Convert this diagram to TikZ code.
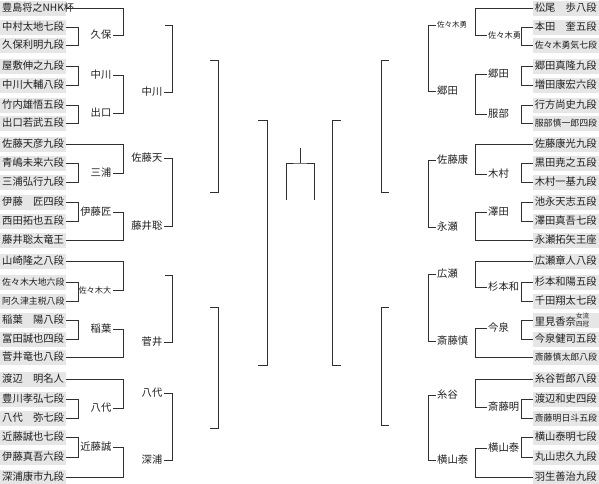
\documentclass[tikz,border=0pt]{standalone}
\usepackage{fontspec}
\newfontfamily\jp{Noto Sans CJK JP}
\definecolor{boxgray}{HTML}{E6E6E6}
\definecolor{linec}{HTML}{303030}
\definecolor{textc}{HTML}{202020}
\newcommand{\fn}{\jp\fontsize{10.3}{12}\selectfont}
\newcommand{\fs}{\jp\fontsize{8.9}{10}\selectfont}
\begin{document}
\begin{tikzpicture}[x=1pt,y=-1pt,
  pbox/.style={fill=boxgray, minimum width=66pt, minimum height=15pt, inner sep=0pt,
    text width=62pt, align=left, font=\fn, text=textc},
  sbox/.style={pbox, font=\fs},
  lab/.style={font=\fn, inner xsep=1.5pt, inner ysep=0pt, text=textc},
  slab/.style={lab, font=\jp\fontsize{8.2}{9}\selectfont},
  br/.style={draw=linec, line width=0.9pt}]
\useasboundingbox (0,0) rectangle (599,483);
% column coordinates
\coordinate (c1) at (78,0);
\coordinate (c2) at (123,0);
\coordinate (c3) at (172,0);
\coordinate (c4) at (218,0);
\coordinate (c5) at (267,0);
\coordinate (d1) at (521,0);
\coordinate (d2) at (475,0);
\coordinate (d3) at (428,0);
\coordinate (d4) at (381,0);
\coordinate (d5) at (332,0);
% ---------------- left players
\node[pbox,anchor=west,font=\jp\fontsize{10.1}{11}\selectfont] (L0) at (0,8) {豊島将之NHK杯};
\node[pbox,anchor=west] (L1) at (0,27) {中村太地七段};
\node[pbox,anchor=west] (L2) at (0,45) {久保利明九段};
\node[pbox,anchor=west] (L3) at (0,66) {屋敷伸之九段};
\node[pbox,anchor=west] (L4) at (0,85) {中川大輔八段};
\node[pbox,anchor=west] (L5) at (0,105) {竹内雄悟五段};
\node[pbox,anchor=west] (L6) at (0,123) {出口若武五段};
\node[pbox,anchor=west] (L7) at (0,144) {佐藤天彦九段};
\node[pbox,anchor=west] (L8) at (0,163) {青嶋未来六段};
\node[pbox,anchor=west] (L9) at (0,182) {三浦弘行九段};
\node[pbox,anchor=west] (L10) at (0,202) {伊藤　匠四段};
\node[pbox,anchor=west] (L11) at (0,221) {西田拓也五段};
\node[pbox,anchor=west] (L12) at (0,240) {藤井聡太竜王};
\node[pbox,anchor=west] (L13) at (0,261) {山崎隆之八段};
\node[sbox,anchor=west] (L14) at (0,282) {佐々木大地六段};
\node[sbox,anchor=west] (L15) at (0,301) {阿久津主税八段};
\node[pbox,anchor=west] (L16) at (0,320) {稲葉　陽八段};
\node[pbox,anchor=west] (L17) at (0,339) {冨田誠也四段};
\node[pbox,anchor=west] (L18) at (0,357) {菅井竜也八段};
\node[pbox,anchor=west] (L19) at (0,379) {渡辺　明名人};
\node[pbox,anchor=west] (L20) at (0,399) {豊川孝弘七段};
\node[pbox,anchor=west] (L21) at (0,418) {八代　弥七段};
\node[pbox,anchor=west] (L22) at (0,437) {近藤誠也七段};
\node[pbox,anchor=west] (L23) at (0,457) {伊藤真吾六段};
\node[pbox,anchor=west] (L24) at (0,477) {深浦康市九段};
% ---------------- right players
\node[pbox,anchor=east] (R0) at (599,8) {松尾　歩八段};
\node[pbox,anchor=east] (R1) at (599,27) {本田　奎五段};
\node[sbox,anchor=east] (R2) at (599,45) {佐々木勇気七段};
\node[pbox,anchor=east] (R3) at (599,66) {郷田真隆九段};
\node[pbox,anchor=east] (R4) at (599,85) {増田康宏六段};
\node[pbox,anchor=east] (R5) at (599,105) {行方尚史九段};
\node[sbox,anchor=east] (R6) at (599,123) {服部慎一郎四段};
\node[pbox,anchor=east] (R7) at (599,144) {佐藤康光九段};
\node[pbox,anchor=east] (R8) at (599,163) {黒田尭之五段};
\node[pbox,anchor=east] (R9) at (599,182) {木村一基九段};
\node[pbox,anchor=east] (R10) at (599,202) {池永天志五段};
\node[pbox,anchor=east] (R11) at (599,221) {澤田真吾七段};
\node[pbox,anchor=east] (R12) at (599,240) {永瀬拓矢王座};
\node[pbox,anchor=east] (R13) at (599,261) {広瀬章人八段};
\node[pbox,anchor=east] (R14) at (599,282) {杉本和陽五段};
\node[pbox,anchor=east] (R15) at (599,301) {千田翔太七段};
\node[pbox,anchor=east] (R16) at (599,320) {里見香奈{\fontsize{6.5}{6.8}\selectfont\raisebox{-1.8pt}{\shortstack{女流\\四冠}}}};
\node[pbox,anchor=east] (R17) at (599,339) {今泉健司五段};
\node[sbox,anchor=east] (R18) at (599,357) {斎藤慎太郎八段};
\node[pbox,anchor=east] (R19) at (599,379) {糸谷哲郎八段};
\node[pbox,anchor=east] (R20) at (599,399) {渡辺和史四段};
\node[sbox,anchor=east] (R21) at (599,418) {斎藤明日斗五段};
\node[pbox,anchor=east] (R22) at (599,437) {横山泰明七段};
\node[pbox,anchor=east] (R23) at (599,457) {丸山忠久九段};
\node[pbox,anchor=east] (R24) at (599,477) {羽生善治九段};
% ---------------- left labels
\node[lab,anchor=east] (a1) at (113,35) {久保};
\node[lab,anchor=east] (a2) at (113,75) {中川};
\node[lab,anchor=east] (a3) at (113,113) {出口};
\node[lab,anchor=east] (a4) at (113,173) {三浦};
\node[lab,anchor=east] (a5) at (113,212) {伊藤匠};
\node[slab,anchor=east] (a6) at (113,290) {佐々木大};
\node[lab,anchor=east] (a7) at (113,329) {稲葉};
\node[lab,anchor=east] (a8) at (113,408) {八代};
\node[lab,anchor=east] (a9) at (113,447) {近藤誠};
\node[lab,anchor=east] (b1) at (164,92) {中川};
\node[lab,anchor=east] (b2) at (164,158) {佐藤天};
\node[lab,anchor=east] (b3) at (164,226) {藤井聡};
\node[lab,anchor=east] (b4) at (164,342) {菅井};
\node[lab,anchor=east] (b5) at (164,393) {八代};
\node[lab,anchor=east] (b6) at (164,460) {深浦};
% ---------------- right labels
\node[slab,anchor=west] (p1) at (486.5,35) {佐々木勇};
\node[lab,anchor=west] (p2) at (486.5,74) {郷田};
\node[lab,anchor=west] (p3) at (486.5,114) {服部};
\node[lab,anchor=west] (p4) at (486.5,174) {木村};
\node[lab,anchor=west] (p5) at (486.5,212) {澤田};
\node[lab,anchor=west] (p6) at (486.5,287) {杉本和};
\node[lab,anchor=west] (p7) at (486.5,328) {今泉};
\node[lab,anchor=west] (p8) at (486.5,407) {斎藤明};
\node[lab,anchor=west] (p9) at (486.5,448) {横山泰};
\node[lab,anchor=west,font=\jp\fontsize{7.5}{8}\selectfont] (q1) at (435.5,25) {佐々木勇};
\node[lab,anchor=west] (q2) at (435.5,91) {郷田};
\node[lab,anchor=west] (q3) at (435.5,160) {佐藤康};
\node[lab,anchor=west] (q4) at (435.5,227) {永瀬};
\node[lab,anchor=west] (q5) at (435.5,274) {広瀬};
\node[lab,anchor=west] (q6) at (435.5,341) {斎藤慎};
\node[lab,anchor=west] (q7) at (435.5,395) {糸谷};
\node[lab,anchor=west] (q8) at (435.5,460) {横山泰};
% ---------------- stubs
\coordinate (s1) at (165,25);
\coordinate (s2) at (165,275);
\coordinate (t1) at (210,60);
\coordinate (t2) at (210,192);
\coordinate (t3) at (210,307);
\coordinate (t4) at (210,428);
\coordinate (u1) at (258,120);
\coordinate (u2) at (258,365);
\coordinate (v1) at (389,60);
\coordinate (v2) at (389,192);
\coordinate (v3) at (389,307);
\coordinate (v4) at (389,425);
\coordinate (w1) at (341,120);
\coordinate (w2) at (341,365);
\coordinate (f1) at (286,200);
\coordinate (f2) at (314,200);
\coordinate (ft) at (300,163);
\coordinate (fs) at (300,148);
% ---------------- left connectors: round 1 pairs
\foreach \m/\n in {L1/L2,L3/L4,L5/L6,L8/L9,L10/L11,L14/L15,L16/L17,L20/L21,L22/L23}
  \draw[br] (\m.east) -- (\m.east -| c1) -- (\n.east -| c1) -- (\n.east);
% left round 2
\foreach \m/\n in {L0/a1,a2/a3,L7/a4,a5/L12,L13/a6,a7/L18,L19/a8,a9/L24}
  \draw[br] (\m.east) -- (\m.east -| c2) -- (\n.east -| c2) -- (\n.east);
% left round 3
\draw[br] (s1) -- (s1 -| c3) -- (b1.east -| c3) -- (b1.east);
\draw[br] (b2.east) -- (b2.east -| c3) -- (b3.east -| c3) -- (b3.east);
\draw[br] (s2) -- (s2 -| c3) -- (b4.east -| c3) -- (b4.east);
\draw[br] (b5.east) -- (b5.east -| c3) -- (b6.east -| c3) -- (b6.east);
% left rounds 4 and 5
\draw[br] (t1) -- (t1 -| c4) -- (t2 -| c4) -- (t2);
\draw[br] (t3) -- (t3 -| c4) -- (t4 -| c4) -- (t4);
\draw[br] (u1) -- (u1 -| c5) -- (u2 -| c5) -- (u2);
% ---------------- right connectors: round 1 pairs
\foreach \m/\n in {R1/R2,R3/R4,R5/R6,R8/R9,R10/R11,R14/R15,R16/R17,R20/R21,R22/R23}
  \draw[br] (\m.west) -- (\m.west -| d1) -- (\n.west -| d1) -- (\n.west);
% right round 2
\foreach \m/\n in {R0/p1,p2/p3,R7/p4,p5/R12,R13/p6,p7/R18,R19/p8,p9/R24}
  \draw[br] (\m.west) -- (\m.west -| d2) -- (\n.west -| d2) -- (\n.west);
% right round 3
\foreach \m/\n in {q1/q2,q3/q4,q5/q6,q7/q8}
  \draw[br] (\m.west) -- (\m.west -| d3) -- (\n.west -| d3) -- (\n.west);
% right rounds 4 and 5
\draw[br] (v1) -- (v1 -| d4) -- (v2 -| d4) -- (v2);
\draw[br] (v3) -- (v3 -| d4) -- (v4 -| d4) -- (v4);
\draw[br] (w1) -- (w1 -| d5) -- (w2 -| d5) -- (w2);
% ---------------- final
\draw[br] (f1) |- (ft) -| (f2);
\draw[br] (ft) -- (fs);
\end{tikzpicture}
\end{document}
